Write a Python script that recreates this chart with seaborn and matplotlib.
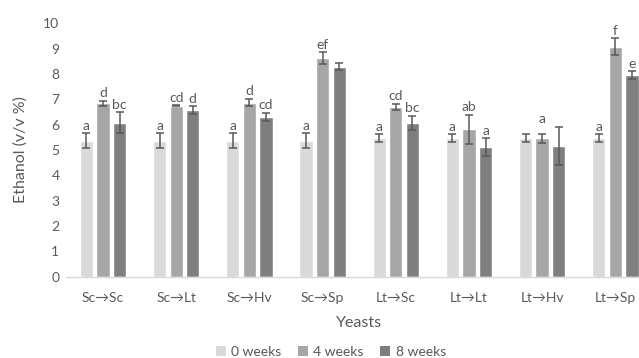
import matplotlib
matplotlib.use("Agg")
import matplotlib.pyplot as plt
from matplotlib.patches import Patch
import seaborn as sns
import pandas as pd
import numpy as np

# Ethanol content of each yeast sequence after 0, 4 and 8 weeks of ageing
yeasts = ["Sc→Sc", "Sc→Lt", "Sc→Hv", "Sc→Sp", "Lt→Sc", "Lt→Lt", "Lt→Hv", "Lt→Sp"]
periods = ["0 weeks", "4 weeks", "8 weeks"]

ethanol_0w = [5.37, 5.37, 5.37, 5.37, 5.47, 5.47, 5.47, 5.47]
ethanol_4w = [6.84, 6.74, 6.87, 8.62, 6.71, 5.82, 5.46, 9.08]
ethanol_8w = [6.08, 6.58, 6.31, 8.29, 6.08, 5.11, 5.16, 7.96]

sd_0w = [0.30, 0.30, 0.30, 0.30, 0.165, 0.165, 0.165, 0.165]
sd_4w = [0.105, 0.02, 0.15, 0.24, 0.12, 0.57, 0.165, 0.33]
sd_8w = [0.42, 0.145, 0.165, 0.13, 0.28, 0.36, 0.76, 0.16]

letters_0w = ["a", "a", "a", "a", "a", "a", "", "a"]
letters_4w = ["d", "cd", "d", "ef", "cd", "ab", "a", "f"]
letters_8w = ["bc", "d", "cd", "", "bc", "a", "", "e"]

means = [ethanol_0w, ethanol_4w, ethanol_8w]
sds = [sd_0w, sd_4w, sd_8w]
letters = [letters_0w, letters_4w, letters_8w]

df = pd.DataFrame({
    "Yeasts": yeasts * 3,
    "Period": [p for p in periods for _ in yeasts],
    "Ethanol": ethanol_0w + ethanol_4w + ethanol_8w,
})

sns.set_theme(style="white")
plt.rcParams["font.family"] = ["Lato", "DejaVu Sans"]
text_col = "#595959"
palette = ["#D9D9D9", "#A6A6A6", "#7F7F7F"]

fig = plt.figure(figsize=(6.39, 3.58), dpi=100)
ax = fig.add_axes([0.1039, 0.2271, 0.9163, 0.7078])

sns.barplot(data=df, x="Yeasts", y="Ethanol", hue="Period", order=yeasts,
            hue_order=periods, palette=palette, width=0.68, gap=0.2,
            errorbar=None, legend=False, saturation=1, ax=ax)

bar_groups = list(ax.containers)

# whiskers and significance letters on each bar
for h, cont in enumerate(bar_groups):
    for i, bar in enumerate(cont.patches):
        xc = bar.get_x() + bar.get_width() / 2
        m, s = means[h][i], sds[h][i]
        ax.errorbar(xc, m, yerr=s, fmt="none", ecolor=text_col,
                    elinewidth=1.1, capsize=2.8, capthick=1.1, zorder=3)
        lab = letters[h][i]
        if lab:
            top = m + s
            # a letter shared with an unlabelled neighbour clears its whisker too
            if h + 1 < len(means) and not letters[h + 1][i]:
                top = max(top, means[h + 1][i] + sds[h + 1][i])
            ax.annotate(lab, (xc, top), xytext=(0, 1.0), textcoords="offset points",
                        ha="center", va="bottom", fontsize=10, color=text_col)

ax.set_ylim(0, 10)
ax.set_xlim(-0.5, len(yeasts) - 0.5)
ax.set_yticks(range(0, 11))
ax.tick_params(axis="both", length=0, labelsize=10, colors=text_col, pad=5)
ax.tick_params(axis="x", pad=11)
for sp in ["top", "right", "left"]:
    ax.spines[sp].set_visible(False)
ax.spines["bottom"].set_color("#D9D9D9")
ax.spines["bottom"].set_linewidth(1.0)
ax.set_ylabel("Ethanol (v/v %)", fontsize=11.5, color=text_col, labelpad=11)
ax.set_xlabel("Yeasts", fontsize=11.5, color=text_col, labelpad=9)

handles = [Patch(facecolor=c, edgecolor="none", label=p) for c, p in zip(palette, periods)]
fig.legend(handles=handles, loc="center", bbox_to_anchor=(331 / 639, 1 - 352 / 358),
           ncol=3, frameon=False, fontsize=10, handlelength=0.7, handleheight=0.7,
           handletextpad=0.4, columnspacing=1.2, labelcolor=text_col)

fig.savefig("out.png", dpi=100)
